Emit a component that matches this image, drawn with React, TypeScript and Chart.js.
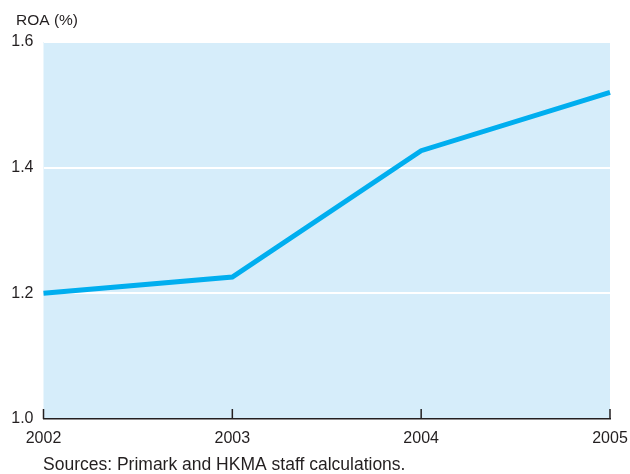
import React, { useEffect, useRef } from "react";
import { Chart, registerables } from "chart.js";

Chart.register(...registerables);

const years = ["2002", "2003", "2004", "2005"];
const roa = [1.2, 1.226, 1.427, 1.52];
const yTicks = [1.0, 1.2, 1.4, 1.6];
const yTitle = "ROA (%)";
const sourceNote = "Sources: Primark and HKMA staff calculations.";

const FONT = "'Liberation Sans', Arial, Helvetica, sans-serif";
const TEXT = "#231f20";

const decorPlugin = {
  id: "decor",
  beforeDraw(chart: any) {
    const { ctx, chartArea } = chart;
    ctx.save();
    ctx.fillStyle = "#d6edfa";
    ctx.fillRect(chartArea.left, chartArea.top, chartArea.right - chartArea.left, chartArea.bottom - chartArea.top);
    ctx.restore();
  },
  afterDraw(chart: any) {
    const { ctx, chartArea, scales } = chart;
    ctx.save();
    ctx.strokeStyle = TEXT;
    ctx.lineWidth = 1.5;
    const xs = scales.x;
    years.forEach((_, i) => {
      const x = xs.getPixelForValue(i);
      ctx.beginPath();
      ctx.moveTo(x, chartArea.bottom);
      ctx.lineTo(x, chartArea.bottom - 10);
      ctx.stroke();
    });
    ctx.fillStyle = TEXT;
    ctx.textBaseline = "middle";
    ctx.textAlign = "left";
    ctx.font = `15.5px ${FONT}`;
    ctx.fillText(yTitle, 16, 21);
    ctx.font = `17.5px ${FONT}`;
    ctx.fillText(sourceNote, 43, 465);
    ctx.restore();
  },
};

export default function App() {
  const ref = useRef<HTMLCanvasElement>(null);
  useEffect(() => {
    document.body.style.margin = "0";
    const chart = new Chart(ref.current!, {
      type: "line",
      data: {
        labels: years,
        datasets: [
          {
            data: roa,
            borderColor: "#00aeef",
            borderWidth: 5,
            pointRadius: 0,
            tension: 0,
            fill: false,
            borderCapStyle: "butt",
            borderJoinStyle: "miter",
          },
        ],
      },
      options: {
        animation: false,
        responsive: false,
        maintainAspectRatio: false,
        layout: { padding: { top: 42, right: 20, left: 0, bottom: 0 } },
        plugins: { legend: { display: false }, tooltip: { enabled: false } },
        scales: {
          x: {
            type: "category",
            offset: false,
            grid: { display: false, drawTicks: false },
            border: { display: true, color: TEXT, width: 1.5 },
            ticks: { color: TEXT, font: { family: FONT, size: 16 }, padding: 10, maxRotation: 0 },
            afterFit(scale: any) {
              scale.height = 55;
              scale.paddingLeft = 0;
              scale.paddingRight = 0;
            },
          },
          y: {
            min: 1.0,
            max: 1.6,
            afterBuildTicks(scale: any) {
              scale.ticks = yTicks.map((v) => ({ value: v }));
            },
            grid: {
              drawTicks: false,
              color: (c: any) => (c.tick && c.tick.value === 1.0 ? "rgba(0,0,0,0)" : "#ffffff"),
              lineWidth: 2,
            },
            border: { display: false },
            ticks: {
              color: TEXT,
              font: { family: FONT, size: 16 },
              padding: 10,
              callback: (v: any) => Number(v).toFixed(1),
            },
            afterFit(scale: any) {
              scale.width = 43.5;
              scale.paddingTop = 0;
              scale.paddingBottom = 0;
            },
          },
        },
      },
      plugins: [decorPlugin],
    });
    return () => chart.destroy();
  }, []);
  return (
    <div style={{ width: 630, height: 474 }}>
      <canvas ref={ref} width={630} height={474} style={{ display: "block" }} />
    </div>
  );
}
